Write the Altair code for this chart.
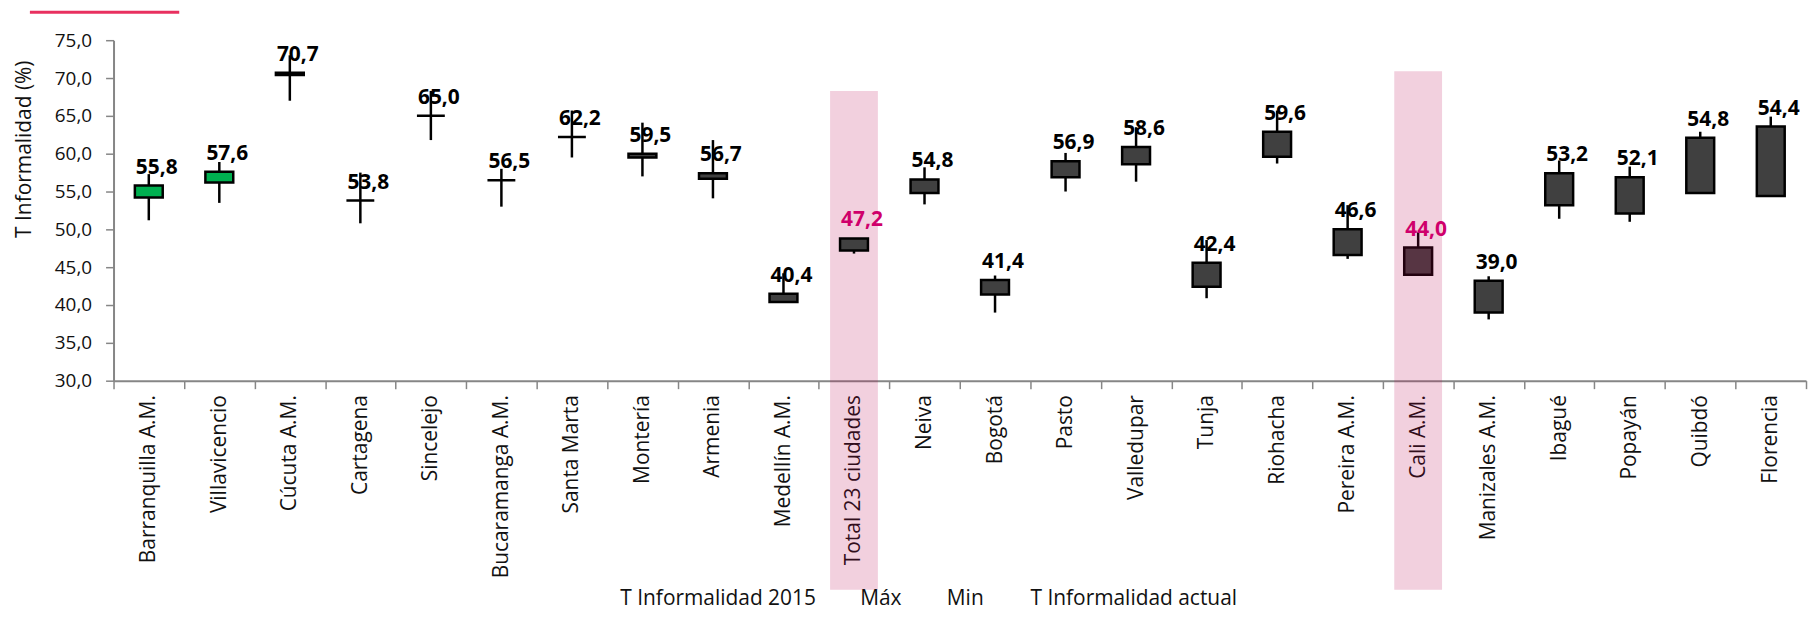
import altair as alt
import pandas as pd
import numpy as np

cities = ["Barranquilla A.M.", "Villavicencio", "Cúcuta A.M.", "Cartagena", "Sincelejo",
          "Bucaramanga A.M.", "Santa Marta", "Montería", "Armenia", "Medellín A.M.",
          "Total 23 ciudades", "Neiva", "Bogotá", "Pasto", "Valledupar", "Tunja",
          "Riohacha", "Pereira A.M.", "Cali A.M.", "Manizales A.M.", "Ibagué",
          "Popayán", "Quibdó", "Florencia"]
t2015 = [54.2, 56.2, 70.4, 53.8, 65.0, 56.5, 62.2, 60.0, 57.4, 41.5, 48.8, 56.6,
         43.3, 59.0, 60.9, 45.6, 62.9, 50.0, 47.6, 43.2, 57.4, 56.9, 62.1, 63.6]
actual = [55.8, 57.6, 70.7, 53.8, 65.0, 56.5, 62.2, 59.5, 56.7, 40.4, 47.2, 54.8,
          41.4, 56.9, 58.6, 42.4, 59.6, 46.6, 44.0, 39.0, 53.2, 52.1, 54.8, 54.4]
maxv = [57.3, 58.9, 73.0, 57.5, 68.3, 58.0, 65.7, 64.1, 61.8, 44.2, 48.8, 58.2,
        43.9, 60.1, 63.5, 48.6, 65.7, 53.2, 49.6, 43.8, 59.1, 58.3, 62.9, 64.9]
minv = [51.2, 53.5, 67.0, 50.8, 61.8, 53.0, 59.5, 57.0, 54.1, 40.4, 46.8, 53.3,
        39.0, 55.0, 56.3, 40.9, 58.7, 46.1, 44.0, 38.1, 51.4, 51.0, 54.8, 54.4]

highlight = ["Total 23 ciudades", "Cali A.M."]
band_tops = [68.3, 70.9]
y_ticks = [30, 35, 40, 45, 50, 55, 60, 65, 70, 75]
legend_labels = ["T Informalidad 2015", "Máx", "Min", "T Informalidad actual"]

df = pd.DataFrame({"city": cities, "t2015": t2015, "actual": actual,
                   "maxv": maxv, "minv": minv})
df["top"] = df[["t2015", "actual"]].max(axis=1)
df["label"] = df["actual"].map(lambda v: f"{v:.1f}".replace(".", ","))
df["dir"] = np.where(df["actual"] > df["t2015"], "up", "down")
df["lc"] = np.where(df["city"].isin(highlight), "hl", "no")

band_df = pd.DataFrame({"city": highlight, "top": band_tops})

FONT = "Open Sans"
AX = "#868686"
PLOT_H = 342
BAND_BOTTOM_PX = 552  # band reaches down through the category labels
band_bottom = 30 - (BAND_BOTTOM_PX - PLOT_H) * 45 / PLOT_H

x = alt.X("city:N", sort=cities, title=None,
          scale=alt.Scale(paddingInner=0, paddingOuter=0),
          axis=alt.Axis(labelAngle=270, labelFont=FONT, labelFontSize=21,
                        labelColor="#111", labelPadding=6, tickBand="extent",
                        tickColor=AX, tickSize=8, tickWidth=1.5,
                        domainColor=AX, domainWidth=2, grid=False,
                        labelLimit=400))
yscale = alt.Scale(domain=[30, 75], nice=False, zero=False)
yaxis = alt.Axis(values=y_ticks, labelExpr="replace(format(datum.value, '.1f'), '.', ',')",
                 labelFont=FONT, labelFontSize=19, labelColor="#111",
                 labelPadding=14, tickColor=AX, tickSize=8, tickWidth=1.5,
                 domainColor=AX, domainWidth=2, grid=False,
                 title="T Informalidad (%)", titleFont=FONT, titleFontSize=21,
                 titleFontWeight="normal", titleColor="#111",
                 titleAngle=270, titleX=-89, titleY=109,
                 titleAlign="center", titleBaseline="middle")

base = alt.Chart(df)


def band(name):
    return alt.Chart(band_df).transform_filter(
        alt.datum.city == name).mark_bar(
        size=48, color="#BA0650", opacity=0.19).encode(
        x=x, y=alt.Y("top:Q", scale=yscale, axis=yaxis), y2=alt.datum(band_bottom))


total_band = band("Total 23 ciudades")
cali_band = band("Cali A.M.")

whisk = base.mark_rule(color="black", strokeWidth=2.5).encode(
    x=x, y=alt.Y("minv:Q", scale=yscale, axis=yaxis), y2="maxv:Q")

box = base.mark_bar(size=28, stroke="black", strokeWidth=2.5).encode(
    x=x, y=alt.Y("t2015:Q", scale=yscale, axis=yaxis), y2="actual:Q",
    color=alt.Color("dir:N", scale=alt.Scale(domain=["up", "down"],
                                             range=["#00B050", "#404040"]),
                    legend=None))

labels = base.mark_text(font=FONT, fontWeight="bold", fontSize=21,
                        baseline="alphabetic", align="center", dx=8, dy=-12).encode(
    x=x, y=alt.Y("top:Q", scale=yscale, axis=yaxis), text="label:N",
    color=alt.Color("lc:N", scale=alt.Scale(domain=["hl", "no"],
                                            range=["#CF006B", "#000000"]),
                    legend=None))

one = pd.DataFrame({"k": [0]})
redline = alt.Chart(one).mark_rule(color="#E8305F", strokeWidth=3).encode(
    x=alt.value(-84), x2=alt.value(66), y=alt.value(-28))

leg_x = [509, 750, 837, 921]
legend_layers = [
    alt.Chart(one).mark_text(text=t, font=FONT, fontSize=21, align="left",
                             baseline="middle", color="#111").encode(
        x=alt.value(px), y=alt.value(561))
    for t, px in zip(legend_labels, leg_x)
]

chart = alt.layer(total_band, whisk, box, cali_band, labels, redline,
                  *legend_layers).resolve_scale(color="independent").properties(
    width=1700, height=PLOT_H,
    autosize=alt.AutoSizeParams(type="none"),
    padding={"left": 106, "top": 31, "right": 4, "bottom": 232},
).configure_view(stroke=None)

chart.save("out.html", embed_options={"renderer": "svg", "actions": False})
